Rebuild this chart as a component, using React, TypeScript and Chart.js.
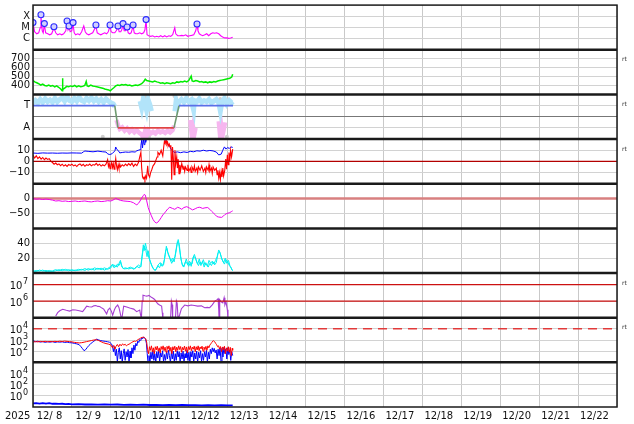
import React, { useEffect, useRef } from 'react';
import { Chart, registerables } from 'chart.js';

Chart.register(...registerables);

type P = [number, number | null];

// ---- axis / tick data ----
const dayLabels = ['12/ 8', '12/ 9', '12/10', '12/11', '12/12', '12/13', '12/14', '12/15', '12/16', '12/17', '12/18', '12/19', '12/20', '12/21', '12/22'];
const yearLabel = '2025';
const spanHours = 360;
const rightTag = 'rt';

const xrayTicks = [1e-4, 1e-5, 1e-6];
const xrayTickLabels = ['X', 'M', 'C'];
const speedTicks = [400, 500, 600, 700];
const speedTickLabels = ['400', '500', '600', '700'];
const sectorTicks = [1, 0, -1];
const sectorTickLabels = ['T', '', 'A'];
const imfTicks = [10, 0, -10];
const imfTickLabels = ['10', '0', '−10'];
const dstTicks = [0, -50];
const dstTickLabels = ['0', '−50'];
const densTicks = [20, 40];
const densTickLabels = ['20', '40'];
// power-of-ten ticks (labels drawn as 10 with a superscript exponent)
const elecTicks = [1e6, 1e7];
const protTicks = [1e2, 1e3, 1e4];
const lowTicks = [1, 1e2, 1e4];

// thresholds
const imfZero = 0;
const dstZero = 0;
const elecThresholds = [1e6, 1e7];
const protThreshold = 1e4;

// ---- series (hours from 12/8 00:00, value) ----
const xray: P[] = [[0.1,2.2e-5],[1.0,4.1e-6],[2.3,2.7e-6],[3.5,3.3e-6],[4.4,9.3e-6],[4.9,1.05e-4],[5.7,5.0e-6],[6.3,3.3e-6],[7.0,1.8e-5],[7.8,3.3e-6],[9.1,2.7e-6],[10.3,2.2e-6],[11.5,2.7e-6],[12.9,9.3e-6],[14.0,3.3e-6],[15.2,2.2e-6],[16.5,2.7e-6],[17.7,2.2e-6],[18.9,2.7e-6],[20.2,5.0e-6],[21.0,3.0e-5],[21.6,6.2e-6],[22.2,1.05e-5],[22.9,4.1e-6],[23.9,5.0e-6],[24.7,1.95e-5],[25.4,3.3e-6],[26.3,2.2e-6],[27.6,2.7e-6],[28.8,2.2e-6],[30.0,4.1e-6],[31.3,1.4e-5],[32.2,4.1e-6],[33.1,2.7e-6],[34.4,2.2e-6],[35.6,2.7e-6],[36.8,3.3e-6],[38.8,1.3e-5],[39.6,3.3e-6],[40.5,2.7e-6],[41.8,2.2e-6],[43.0,2.7e-6],[44.2,3.3e-6],[45.4,2.7e-6],[46.4,4.1e-6],[47.5,1.3e-5],[48.2,4.1e-6],[49.1,3.3e-6],[50.4,3.3e-6],[51.3,5.0e-6],[52.4,1.05e-5],[53.1,4.1e-6],[54.1,4.1e-6],[54.7,6.2e-6],[55.5,1.6e-5],[56.2,5.0e-6],[57.1,5.0e-6],[58.0,8.5e-6],[58.7,3.3e-6],[59.6,2.7e-6],[60.5,3.3e-6],[61.7,1.3e-5],[62.4,3.3e-6],[63.3,2.7e-6],[64.5,2.7e-6],[65.8,3.3e-6],[67.0,2.7e-6],[68.2,3.3e-6],[69.0,6.2e-6],[69.7,4.1e-5],[70.3,2.2e-6],[71.3,1.8e-6],[72.6,1.6e-6],[73.8,1.8e-6],[75.0,1.4e-6],[76.3,1.6e-6],[77.5,1.4e-6],[78.7,1.8e-6],[80.0,1.4e-6],[81.2,1.8e-6],[82.4,1.4e-6],[83.7,1.8e-6],[84.9,1.6e-6],[86.1,2.2e-6],[87.4,9.3e-6],[88.0,2.7e-6],[89.2,1.8e-6],[90.4,1.8e-6],[91.7,1.95e-6],[92.9,1.8e-6],[94.1,2.2e-6],[95.4,1.6e-6],[96.6,1.8e-6],[97.8,1.95e-6],[99.1,2.2e-6],[100.3,5.0e-6],[101.1,1.8e-5],[101.7,5.0e-6],[102.5,2.7e-6],[103.4,2.2e-6],[104.6,1.8e-6],[105.9,2.2e-6],[107.1,2.7e-6],[108.3,1.8e-6],[109.6,2.7e-6],[110.8,3.3e-6],[112.0,3.0e-6],[113.2,3.3e-6],[114.5,2.7e-6],[115.7,1.8e-6],[116.9,1.4e-6],[118.2,1.15e-6],[119.4,1.15e-6],[120.6,1.05e-6],[121.8,1.15e-6],[123.1,1.3e-6]];

const flares: P[] = [[0.0,2.7e-5],[4.9,1.35e-4],[7.0,2.2e-5],[12.9,1.15e-5],[21.0,3.8e-5],[22.2,1.35e-5],[24.7,2.7e-5],[38.8,1.66e-5],[47.5,1.66e-5],[52.4,1.35e-5],[55.5,2.2e-5],[58.0,1.1e-5],[61.7,1.66e-5],[69.7,5.0e-5],[101.1,2.0e-5]];

const speed: P[] = [[0,455],[1.1,440],[2.3,430],[3.5,420],[4.8,405],[6.0,415],[7.2,400],[8.5,395],[9.7,405],[10.9,392],[12.1,400],[13.4,385],[14.6,395],[15.8,380],[17.1,360],[18.0,340],[18.2,480],[18.4,355],[19.5,370],[20.8,390],[22.0,385],[23.2,395],[24.5,388],[25.7,400],[26.9,385],[28.2,395],[29.4,385],[30.6,390],[31.9,400],[32.8,445],[33.4,395],[34.3,390],[35.6,405],[36.8,395],[38.0,390],[39.3,385],[40.5,380],[41.7,375],[43.0,370],[44.2,360],[45.4,355],[46.7,350],[47.6,340],[48.5,355],[49.8,375],[51.0,395],[52.2,405],[53.5,400],[54.7,410],[55.9,405],[57.2,410],[58.4,400],[59.6,405],[60.9,395],[62.1,400],[63.3,405],[64.6,400],[65.8,410],[67.0,420],[68.3,445],[69.2,470],[70.1,455],[71.3,450],[72.6,445],[73.8,440],[75.0,450],[76.3,440],[77.5,435],[78.7,425],[80.0,430],[81.2,420],[82.4,430],[83.7,425],[84.9,420],[86.1,430],[87.4,425],[88.6,440],[89.8,435],[91.1,445],[92.3,440],[93.5,450],[94.8,440],[96.0,455],[97.5,505],[98.1,450],[99.1,445],[100.3,455],[101.5,450],[102.8,440],[104.0,445],[105.2,435],[106.5,440],[107.7,430],[108.9,440],[110.2,435],[111.4,445],[112.6,440],[113.9,450],[115.1,455],[116.3,460],[117.6,465],[118.8,470],[120.0,475],[121.3,480],[122.5,495],[123.1,525]];

const sectorLine: P[] = [[0,1],[50.4,1],[52.4,-1],[86.9,-1],[90.0,1],[123.3,1]];

const sectorToward: P[] = [[0,1.2],[1.5,1.45],[3,1.25],[4.5,1.55],[6,1.3],[7.5,1.6],[9,1.35],[10.5,1.5],[12,1.3],[13.5,1.65],[15,1.35],[16.5,1.55],[18,1.7],[19.5,1.4],[21,1.8],[22.5,1.45],[24,1.35],[25.5,1.65],[27,1.4],[28.5,1.75],[30,1.45],[31.5,1.35],[33,1.65],[34.5,1.45],[36,1.7],[37.5,1.4],[39,1.6],[40.5,1.35],[42,1.55],[43.5,1.3],[45,1.6],[46.5,1.4],[48,1.25],[49.5,1.15],[50.5,0.9],[51,null],[66,1.4],[67,0.8],[68,1.6],[69,1.2],[70,0.6],[71,1.5],[72,1.1],[73,0.5],[74,null],[87.5,0.5],[88.2,1.4],[89,0.9],[90,1.35],[91.5,1.55],[93,1.3],[94.5,1.65],[96,1.35],[97.5,1.5],[99,0.6],[99.5,1.45],[101,1.35],[102.5,1.6],[104,1.3],[105.5,1.45],[107,1.35],[108.5,1.55],[110,1.25],[111.5,1.4],[113,1.55],[114.5,1.25],[115.5,0.5],[116.5,1.35],[118,1.65],[119.5,1.15],[121,1.45],[122.5,1.25],[123.1,1.35]];

const sectorAway: P[] = [[51.5,-0.3],[52.5,-0.8],[53.5,-1.1],[55,-0.95],[56.5,-1.25],[58,-1.05],[59.5,-1.35],[61,-1.15],[62.5,-1.4],[64,-1.2],[65.5,-1.45],[67,-1.6],[68,-1.9],[69,-1.35],[70,-1.7],[71,-1.25],[72.5,-1.5],[74,-1.35],[75.5,-1.5],[77,-1.25],[78.5,-1.4],[80,-1.3],[81.5,-1.45],[83,-1.25],[84.5,-1.4],[86,-1.2],[87,-0.8],[88,null],[97,-0.3],[97.8,-1.5],[98.6,-0.9],[99.4,-1.6],[100.2,-1.0],[101,null],[114.5,-0.4],[115.2,-1.5],[116,-0.8],[116.8,-1.7],[117.6,-1.1],[118.4,-0.5]];

const sectorUnclear: P[] = [[21.4,1.7],[43.0,-1.8],[68.9,1.95],[69.5,1.8],[70.8,-1.95],[71.5,-1.8],[87.2,1.85],[88,1.7],[97.5,1.5],[115.4,1.6],[119.5,-1.8]];

const bt: P[] = [[0,7.5],[3,7.2],[6,7.6],[9,7.4],[12,7.5],[15,7.3],[18,7.5],[21,7.4],[24,7.6],[27,7.5],[30,7.4],[31,8.5],[32,9.3],[34,9.0],[37,8.6],[40,9.2],[43,8.6],[45,8.4],[46,6.8],[47,6.2],[48,6.4],[49,7.2],[50.5,9.5],[51,12.9],[51.5,11.0],[52.5,9.8],[53.5,7.6],[55,8.0],[57,8.4],[59,8.2],[61,8.6],[63,8.4],[64,9.5],[65,10.0],[66,10.5],[66.5,14],[67,19],[67.5,12],[68,20],[68.5,15],[69,21],[69.5,17],[70,20],[71,19.5],[73,20.5],[75,19.8],[77,20.3],[79,19.5],[81,20],[82,17],[83,15.5],[84,14.5],[85,11],[86,9.5],[87,8.0],[89,8.5],[91,7.8],[93,8.5],[95,8.0],[97,9.0],[99,8.6],[101,9.5],[103,9.2],[105,10],[107,9.3],[109,9.8],[111,9.4],[113,8.4],[114.5,5.8],[116,6.5],[117,10],[118,13],[119,11],[120,12.5],[121,11.5],[122,13],[123.1,12.5]];

const bz: P[] = [[0,5.5],[1,3.0],[2,5.0],[3,2.5],[4,4.0],[5,2.0],[6,3.5],[7,1.5],[8,3.0],[9,1.8],[10,2.5],[11,0.3],[12,-1.0],[13,-2.5],[14,-1.5],[15,-3.0],[16,-2.2],[17,-3.8],[18,-2.5],[19,-4.2],[20,-3.0],[21,-4.5],[22,-2.8],[23,-3.6],[24,-2.5],[25,-4.0],[26,-3.2],[27,-4.6],[28,-3.0],[29,-2.2],[30,-3.8],[31,-2.6],[32,-4.4],[33,-3.0],[34,-3.6],[35,-2.4],[36,-4.0],[37,-2.8],[38,-3.4],[39,-1.8],[40,-3.6],[41,-2.5],[42,-4.2],[43,-3.0],[44,-4.0],[45,-2.5],[46,1.5],[46.5,-4.5],[47,-2.0],[47.5,-6.5],[48,-3.0],[48.5,-1.0],[49,-5.5],[49.5,-2.0],[50,-7.0],[50.5,-3.5],[51,2.5],[51.5,-4.0],[52,-7.5],[52.5,-3.0],[53,-6.5],[53.5,-2.5],[54,-5.0],[55,-3.0],[56,-4.2],[57,-2.4],[58,-3.8],[59,-2.0],[60,-3.6],[61,-1.5],[62,-4.5],[63,-2.5],[64,-3.8],[65,-1.0],[65.8,4.0],[66.5,8.0],[67,-6.0],[67.5,-13.8],[68,-15.5],[68.5,-14],[69,-16.4],[69.5,-13],[70,-15],[70.7,-4.0],[71.2,-12],[71.9,-14],[72.5,-10],[73.2,-7.5],[74,-4],[75,-2],[76,2],[76.5,4],[77,8],[78,6],[79,10],[80,5],[80.5,12],[81,18],[81.5,16],[82,19],[82.5,15.6],[83,17],[83.5,14],[84,15.6],[84.5,13],[85,14.5],[85.5,-16.4],[86,12.9],[86.5,3],[87,-12],[87.5,10],[88,-2],[88.6,4],[89,-6],[89.5,2],[90,-11],[90.5,-3],[91,-8],[91.7,-2],[92.5,-7],[93,-4],[93.5,-9],[94,-5],[95,-8],[95.5,-3],[96,-9],[97,-6],[97.5,-10],[98,-5],[99,-8],[99.5,-4],[100,-9],[101,-6],[101.5,-10],[102,-5],[103,-8],[104,-4],[105,-9],[106,-6],[106.5,-10],[107,-5],[108,-8],[108.5,-3],[109,-9],[110,-6],[110.5,-10.8],[111,-5],[112,-8],[113,-6],[113.5,-12],[114,-8],[114.5,-15],[115,-10],[115.5,-16.4],[116,-9],[116.5,-14],[117,-6],[117.5,-13],[118.2,-8],[118.8,2],[119.3,-7],[119.8,6],[120.3,-3],[120.8,8],[121.3,0],[121.8,10],[122.4,4],[123.1,11]];

const dst: P[] = [[0,0],[2,-2],[4,-1],[6,-3],[8,-1.5],[10,-3],[12,-5],[14,-8],[16,-7],[18,-9],[20,-8],[22,-10],[24,-9],[26,-8],[28,-10],[30,-9],[32,-8],[34,-10],[36,-11],[38,-9],[40,-8],[42,-10],[44,-9],[46,-7],[48,-8],[50,-3],[51,1],[52,-2],[54,-6],[56,-8],[58,-9],[60,-10],[62,-14],[63,-18],[64,-21],[65,-16],[66,-8],[67,2],[68,10],[68.5,14],[69.2,12],[70,-5],[71,-30],[72,-45],[73,-58],[74,-70],[75,-78],[76,-82],[77,-79],[78,-72],[79,-64],[80,-55],[81,-49],[82,-42],[83,-35],[84.3,-29],[86,-33],[87.4,-36],[89.2,-29],[90.5,-32],[91.7,-36],[93,-30],[94.8,-27],[96.5,-32],[98.4,-38],[100,-34],[101.5,-30],[102.8,-29],[104.6,-33],[106,-31],[107.7,-30],[109,-36],[110.2,-43],[111.5,-50],[112.5,-55],[113.3,-60],[114.5,-62],[116.3,-63],[117.5,-58],[118.2,-54],[119.5,-50],[121.3,-47],[122.5,-43],[123.1,-41]];

const densA: P[] = [[0,3],[2,2],[4,4],[6,2.5],[8,3.5],[10,2],[12,3],[14,4.5],[16,3],[18,5],[20,3.5],[22,4.5],[24,3],[26,4],[28,3.5],[30,5],[32,3.5],[34,6],[36,4.5],[38,7],[40,5],[42,6.5],[44,4],[46,6],[48,9],[49,12],[50,7],[51,10],[52,8],[53,13],[53.9,17],[54.5,10],[55.5,6],[57,7],[59,5.5],[61,7],[62.5,6],[64,9],[65.5,7],[66.5,10],[67.5,28],[68,38],[68.5,30],[69.3,40],[70,33],[70.7,27],[71.5,20],[72.5,14],[73.5,9],[74.5,5],[75.5,3.5],[76.5,8],[77.5,12],[78.5,14],[79.5,9],[80.5,11],[81.5,25],[82.2,36],[83,28],[84,23],[85,16],[86,20],[87,15],[88,27],[88.8,38],[89.5,45],[90.3,36],[91,22],[91.7,14],[92.5,9],[93.5,12],[94.5,19],[95.5,11],[96.5,16],[97.5,9],[98.5,20],[99.5,25],[100.5,18],[101.5,12],[102.5,19],[103.5,10],[104.5,16],[105.5,8],[106.5,14],[107.5,9],[108.5,17],[109.5,13],[110.5,16],[111.5,12],[112.5,17],[113.5,22],[114.5,31],[115.5,26],[116.3,19],[117.5,14],[118.5,20],[119.5,13],[120.5,17],[121.5,9],[122.3,6],[123.1,3]];

const densB: P[] = [[0,2],[2,3.5],[4,2.5],[6,4],[8,2],[10,3.5],[12,2],[14,3],[16,4.5],[18,3],[20,5],[22,3],[24,4.5],[26,3],[28,5],[30,4],[32,6],[34,4],[36,5.5],[38,4],[40,6.5],[42,4.5],[44,7],[46,5],[48,7],[49,10],[50,11],[51,8],[52,12],[53,10],[54,15],[55,8],[56,5.5],[58,6],[60,8],[62,5],[63.5,7],[65,11],[66.5,8],[67.3,22],[68,33],[68.8,36],[69.6,30],[70.3,22],[71,30],[72,18],[73,11],[74,6],[75,4],[76,5],[77,10],[78,7],[79,13],[80,10],[81,18],[81.8,30],[82.6,33],[83.5,24],[84.5,19],[85.5,13],[86.5,18],[87.5,22],[88.3,33],[89,42],[89.8,40],[90.6,28],[91.3,18],[92,11],[93,8],[94,15],[95,13],[96,9],[97,14],[98,12],[99,22],[100,21],[101,14],[102,10],[103,15],[104,12],[105,18],[106,11],[107,12],[108,8],[109,13],[110,10],[111,15],[112,11],[113,14],[114,26],[115,29],[116,22],[117,16],[118,12],[119,18],[120,15],[121,10],[122,8],[122.7,4]];

const electron: P[] = [[14.0,1.26e5],[15.2,2.0e5],[16.5,2.6e5],[18.3,3.2e5],[20.5,2.8e5],[22.6,2.5e5],[24.5,3.0e5],[26.3,2.9e5],[28.5,2.6e5],[30.6,2.35e5],[32,3.5e5],[33.1,5.0e5],[34.5,4.6e5],[36.2,4.4e5],[37.5,5.2e5],[38.7,5.4e5],[40,4.8e5],[41.1,4.7e5],[42.5,3.8e5],[43.6,3.3e5],[45.4,1.7e5],[46.3,3.0e5],[47.3,3.8e5],[48.3,2.5e5],[49.1,1.4e5],[50.2,3.0e5],[51.0,4.4e5],[52.2,5.8e5],[53.0,4.0e5],[53.5,2.5e5],[54.2,1.2e5],[54.7,8e4],[55.3,2.0e5],[55.9,5.0e5],[57.8,4.4e5],[59.6,3.8e5],[62.1,3.3e5],[63.9,2.3e5],[65.8,2.9e5],[66.3,1.5e5],[66.8,8e4],[67.3,1.0e6],[67.8,2.3e6],[69,2.1e6],[70.1,2.0e6],[71.5,2.2e6],[73.0,1.7e6],[74,1.5e6],[75.0,1.26e6],[76.0,9e5],[76.9,6.9e5],[78,5.8e5],[79.3,5.0e5],[79.7,2.0e5],[80.1,8e4],[84.8,8e4],[85.3,1.0e6],[85.8,6e5],[86.1,8e4],[87.8,8e4],[88.4,1.0e6],[88.9,7e5],[89.4,8e4],[90.4,1.5e5],[91.5,3.5e5],[93.5,5.8e5],[95.5,5.2e5],[97.5,5.8e5],[99.5,5.4e5],[101.5,5.0e5],[103.8,5.2e5],[105.8,4.0e5],[107.5,4.2e5],[108.9,4.0e5],[110.5,6.0e5],[112.1,1.0e6],[113.3,1.2e6],[114.1,1.4e6],[114.5,3e5],[114.7,8e4],[115.1,1.2e6],[116,9e5],[117,7.9e5],[117.8,1.6e6],[118.3,6e5],[119,9e5],[119.8,3e5],[120.2,8e4]];

const protBlue: P[] = [[0,900],[1.5,700],[3,780],[4.5,650],[6,720],[7.5,620],[9,700],[10.5,640],[12,720],[13.5,610],[15,680],[16.5,640],[18,690],[19.5,600],[21,650],[22.5,580],[24,560],[25.5,500],[27,450],[28.5,380],[29.5,260],[30.5,170],[31.5,110],[32.5,140],[33.5,220],[34.5,330],[35.5,460],[36.5,600],[37.5,780],[38.5,1000],[39.3,1200],[40.2,1050],[41.5,900],[43,820],[44.5,760],[46,700],[47.3,620],[48.2,480],[49,300],[49.6,90],[50.2,250],[50.8,40],[51.4,150],[52,12],[52.6,80],[53.2,200],[53.8,20],[54.4,110],[55,10],[55.6,60],[56.2,160],[56.8,15],[57.4,90],[58,30],[58.6,140],[59.2,12],[59.8,100],[60.4,25],[61,200],[61.6,60],[62.2,350],[62.8,120],[63.4,500],[64,300],[64.6,800],[65.2,600],[65.8,1100],[66.4,900],[67,1600],[67.6,1300],[68.2,1900],[68.8,1400],[69.4,1200],[69.9,500],[70.4,60],[70.9,10],[71.5,40],[72.1,12],[72.7,80],[73.3,20],[73.9,110],[74.5,15],[75.1,60],[75.7,10],[76.3,90],[76.9,25],[77.5,100],[78.1,12],[78.7,70],[79.3,30],[79.9,110],[80.5,10],[81.1,50],[81.7,15],[82.3,90],[82.9,20],[83.5,120],[84.1,40],[84.7,10],[85.3,80],[85.9,20],[86.5,100],[87.1,12],[87.7,60],[88.3,15],[88.9,110],[89.5,30],[90.1,90],[90.7,10],[91.3,70],[91.9,20],[92.5,100],[93.1,12],[93.7,60],[94.3,25],[94.9,120],[95.5,15],[96.1,80],[96.7,10],[97.3,90],[97.9,30],[98.5,110],[99.1,12],[99.7,70],[100.3,20],[100.9,100],[101.5,10],[102.1,80],[102.7,25],[103.3,110],[103.9,12],[104.5,60],[105.1,15],[105.7,90],[106.3,30],[106.9,120],[107.5,10],[108.1,80],[108.7,20],[109.3,150],[109.9,60],[110.5,200],[111.1,90],[111.7,180],[112.3,70],[112.9,130],[113.5,20],[114.1,150],[114.7,40],[115.3,200],[115.9,12],[116.5,180],[117.1,30],[117.7,220],[118.3,60],[118.9,160],[119.5,20],[120.1,200],[120.7,50],[121.3,120],[121.9,15],[122.5,90],[123.1,40]];

const protRed: P[] = [[0,650],[1.5,720],[3,680],[4.5,750],[6,700],[7.5,760],[9,690],[10.5,740],[12,700],[13.5,760],[15,720],[16.5,780],[18,740],[19.5,800],[21,760],[22.5,720],[24,680],[25.5,620],[27,580],[28.5,550],[30,580],[31.5,640],[33,720],[34.5,800],[36,900],[37.5,1000],[39,1050],[40.5,900],[42,700],[43.5,560],[45,480],[46.5,430],[48,360],[49,200],[49.8,330],[50.5,150],[51.2,280],[52,400],[52.8,250],[53.6,420],[54.4,300],[55.2,450],[56,350],[56.8,420],[57.6,300],[58.4,380],[59.2,420],[60,500],[60.8,600],[61.6,700],[62.4,800],[63.2,750],[64,900],[64.8,1100],[65.6,1300],[66.4,1500],[67.2,1700],[68,1800],[68.8,1600],[69.5,1300],[70.1,600],[70.6,150],[71.2,60],[71.8,250],[72.4,120],[73,300],[73.6,90],[74.2,200],[74.8,60],[75.4,250],[76,130],[76.6,280],[77.2,100],[77.8,200],[78.4,70],[79,260],[79.6,140],[80.2,300],[80.8,110],[81.4,230],[82,80],[82.6,270],[83.2,150],[83.8,300],[84.4,100],[85,220],[85.6,60],[86.2,250],[86.8,130],[87.4,280],[88,90],[88.6,230],[89.2,120],[89.8,300],[90.4,140],[91,260],[91.6,80],[92.2,220],[92.8,130],[93.4,290],[94,100],[94.6,240],[95.2,70],[95.8,260],[96.4,140],[97,300],[97.6,110],[98.2,230],[98.8,150],[99.4,280],[100,90],[100.6,250],[101.2,130],[101.8,300],[102.4,110],[103,240],[103.6,160],[104.2,280],[104.8,100],[105.4,230],[106,140],[106.6,270],[107.2,120],[107.8,300],[108.4,200],[109,350],[109.6,450],[110.2,600],[110.8,800],[111.4,850],[112,700],[112.6,500],[113.2,380],[113.8,250],[114.4,300],[115,150],[115.6,260],[116.2,90],[116.8,240],[117.4,130],[118,280],[118.6,60],[119.2,200],[119.8,100],[120.4,250],[121,80],[121.6,220],[122.2,40],[122.8,180],[123.1,120]];

const lowFlux: P[] = [[0,0.045],[2,0.05],[4,0.04],[6,0.05],[8,0.042],[10,0.048],[12,0.038],[14,0.04],[16,0.035],[18,0.038],[20,0.032],[22,0.036],[24,0.03],[28,0.032],[32,0.028],[36,0.03],[40,0.027],[44,0.03],[48,0.026],[52,0.028],[56,0.025],[60,0.027],[64,0.024],[68,0.026],[72,0.023],[76,0.025],[80,0.022],[84,0.024],[88,0.021],[92,0.023],[96,0.021],[100,0.022],[104,0.02],[108,0.022],[112,0.02],[116,0.021],[120,0.019],[123.1,0.02]];

// ---- rendering ----
const FONT = 'DejaVu Sans';
const panels = ['xray', 'speed', 'sector', 'imf', 'dst', 'dens', 'elec', 'prot', 'low'];
const taggedPanels = ['speed', 'sector', 'imf', 'elec', 'prot'];
const powerPanels: [string, number[]][] = [['elec', elecTicks], ['prot', protTicks], ['low', lowTicks]];

const xy = (arr: P[]) => arr.map(([x, y]) => ({ x, y }));
const flat = (v: number): P[] => [[0, v], [spanHours, v]];

function line(yAxisID: string, data: P[], color: string, width: number, extra: any = {}) {
  return {
    type: 'line', yAxisID, xAxisID: 'x', data: xy(data), borderColor: color, backgroundColor: color,
    borderWidth: width, pointRadius: 0, fill: false, tension: 0, spanGaps: false, order: 2, ...extra,
  };
}

function yScale(id: string, type: string, min: number, max: number, ticks: number[], labels: string[] | null, gridColor: any = '#d2d2d2') {
  const idx = panels.indexOf(id);
  return {
    type, position: 'left', stack: 'panels', stackWeight: 1, weight: panels.length - idx,
    min, max,
    afterBuildTicks: (s: any) => { s.ticks = ticks.map((v) => ({ value: v })); },
    afterFit: (s: any) => { s.width = 33; s.paddingTop = 0; s.paddingBottom = 0; },
    grid: { color: gridColor, lineWidth: 1, drawTicks: false },
    border: { display: false },
    ticks: {
      autoSkip: false, padding: 3, color: '#111', font: { family: FONT, size: 10 },
      callback: (_v: any, i: number) => (labels ? labels[i] : ''),
    },
  };
}

const panelClip = {
  id: 'panelClip',
  beforeDatasetDraw(chart: any, args: any) {
    const ys = args.meta.yScale;
    const { ctx, chartArea } = chart;
    ctx.save();
    ctx.beginPath();
    ctx.rect(chartArea.left, ys.top, chartArea.right - chartArea.left, ys.bottom - ys.top);
    ctx.clip();
  },
  afterDatasetDraw(chart: any) {
    chart.ctx.restore();
  },
};

const frame = {
  id: 'frame',
  afterDatasetsDraw(chart: any) {
    const { ctx, chartArea } = chart;
    const { left, right, top, bottom } = chartArea;
    ctx.save();
    ctx.strokeStyle = '#1a1a1a';
    ctx.lineWidth = 2.5;
    panels.forEach((id, i) => {
      if (i === 0) return;
      const y = chart.scales[id].top;
      ctx.beginPath();
      ctx.moveTo(left, y);
      ctx.lineTo(right, y);
      ctx.stroke();
    });
    ctx.lineWidth = 1.5;
    ctx.strokeRect(left, top, right - left, bottom - top);
    ctx.fillStyle = '#333';
    ctx.font = `6px ${FONT}`;
    ctx.textBaseline = 'middle';
    taggedPanels.forEach((id) => {
      ctx.fillText(rightTag, right + 5, chart.scales[id].top + 10);
    });
    ctx.fillStyle = '#111';
    ctx.font = `10px ${FONT}`;
    ctx.textAlign = 'left';
    ctx.fillText(yearLabel, 5, chart.scales.x.top + 9);
    // power-of-ten labels
    ctx.textAlign = 'right';
    powerPanels.forEach(([id, ticks]) => {
      const s = chart.scales[id];
      ticks.forEach((v) => {
        const y = s.getPixelForValue(v);
        const exp = String(Math.round(Math.log10(v)));
        const xr = left - 5;
        ctx.font = `8px ${FONT}`;
        const w = ctx.measureText(exp).width;
        ctx.fillText(exp, xr, y - 3);
        ctx.font = `10px ${FONT}`;
        ctx.fillText('10', xr - w - 0.5, y + 2);
      });
    });
    ctx.restore();
  },
};

export default function App() {
  const ref = useRef<HTMLCanvasElement>(null);
  useEffect(() => {
    document.body.style.margin = '0';
    const hourTicks = Array.from({ length: spanHours / 12 + 1 }, (_, i) => i * 12);
    const sectorColors = { t: '#5a6fe8', a: '#e04444', mid: '#6f9a70' };
    const datasets: any[] = [
      { ...line('xray', flares, '#2a2aff', 1.1, { showLine: false, pointRadius: 3, pointBackgroundColor: '#d0d0ff', pointBorderColor: '#2a2aff', pointBorderWidth: 1.1, order: 0 }) },
      line('sector', sectorLine, sectorColors.t, 1.6, {
        order: 0,
        segment: {
          borderColor: (c: any) => {
            const a = c.p0.parsed.y, b = c.p1.parsed.y;
            if (a > 0 && b > 0) return sectorColors.t;
            if (a < 0 && b < 0) return sectorColors.a;
            return sectorColors.mid;
          },
        },
      }),
      line('imf', flat(imfZero), '#b30000', 1.4, { order: 1 }),
      ...elecThresholds.map((v) => line('elec', flat(v), '#cc1111', 1.2, { order: 1 })),
      line('prot', flat(protThreshold), '#e23a3a', 1.5, { order: 1, borderDash: [9, 6] }),
      line('xray', xray, '#ff00ff', 1.1, {}),
      line('speed', speed, '#00ee00', 1.5, {}),
      line('imf', bz, '#ff0000', 1.1, {}),
      line('imf', bt, '#0000ff', 1, {}),
      line('dst', dst, '#ee00ee', 1, {}),
      line('dst', flat(dstZero), '#d88080', 2.5, { order: 3 }),
      line('dens', densA, '#00f0f0', 1, {}),
      line('dens', densB, '#00f0f0', 1, {}),
      line('elec', electron, '#a63fd2', 1.1, {}),
      line('prot', protRed, '#ff0000', 1, {}),
      line('prot', protBlue, '#0000ff', 1, { order: 2.5 }),
      line('low', lowFlux, '#0000ff', 1.8, {}),
      line('sector', sectorToward, '#b2e4fa', 5, { order: 4 }),
      line('sector', sectorAway, '#f6b6ef', 4.5, { order: 4 }),
      line('sector', sectorUnclear, '#cfcfcf', 1, { showLine: false, pointRadius: 2, pointBackgroundColor: '#cfcfcf', pointBorderWidth: 0, order: 5 }),
    ];

    const chart = new Chart(ref.current as HTMLCanvasElement, {
      type: 'line',
      data: { datasets },
      plugins: [panelClip, frame],
      options: {
        animation: false,
        responsive: false,
        events: [],
        layout: { padding: { top: 2, right: 17, left: 0, bottom: 0 } },
        plugins: { legend: { display: false }, tooltip: { enabled: false } },
        scales: {
          x: {
            type: 'linear', position: 'bottom', min: 0, max: spanHours,
            afterBuildTicks: (s: any) => { s.ticks = hourTicks.map((v) => ({ value: v })); },
            afterFit: (s: any) => { s.height = 17; s.paddingLeft = 0; s.paddingRight = 0; },
            grid: {
              drawTicks: false,
              color: (c: any) => (c.tick && c.tick.value % 24 === 0 ? '#c9c9c9' : 'rgba(0,0,0,0)'),
            },
            border: { display: false },
            ticks: {
              autoSkip: false, maxRotation: 0, padding: 3, labelOffset: -3, color: '#111',
              font: { family: FONT, size: 10 },
              callback: (v: any) => (v % 24 === 12 ? dayLabels[(v - 12) / 24] : ''),
            },
          },
          xray: yScale('xray', 'logarithmic', 1e-7, 1e-3, xrayTicks, xrayTickLabels),
          speed: yScale('speed', 'linear', 300, 800, speedTicks, speedTickLabels),
          sector: yScale('sector', 'linear', -2, 2, sectorTicks, sectorTickLabels, (c: any) => (c.tick && c.tick.value === 0 ? '#777' : '#d2d2d2')),
          imf: yScale('imf', 'linear', -20, 20, imfTicks, imfTickLabels),
          dst: yScale('dst', 'linear', -100, 50, dstTicks, dstTickLabels),
          dens: yScale('dens', 'linear', 0, 60, densTicks, densTickLabels),
          elec: yScale('elec', 'logarithmic', 1e5, 5e7, elecTicks, null),
          prot: yScale('prot', 'logarithmic', 10, 1e5, protTicks, null),
          low: yScale('low', 'logarithmic', 1e-2, 1e6, lowTicks, null),
        } as any,
      },
    } as any);
    return () => chart.destroy();
  }, []);
  return (
    <div style={{ width: 634, height: 424 }}>
      <canvas ref={ref} width={634} height={424} style={{ display: 'block' }} />
    </div>
  );
}
